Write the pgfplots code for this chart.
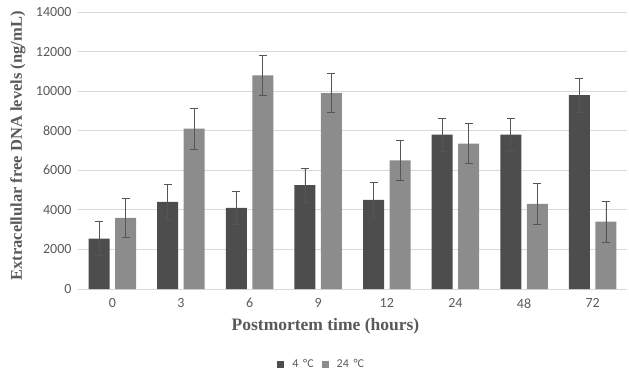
\documentclass[border=0pt]{standalone}
\usepackage{fontspec}
\setmainfont{Carlito}
\newfontfamily\labfont{Liberation Serif}
\usepackage{pgfplots}
\pgfplotsset{compat=1.18}
\definecolor{darkbar}{HTML}{4D4D4D}
\definecolor{lightbar}{HTML}{8C8C8C}
\definecolor{gridc}{HTML}{D9D9D9}
\definecolor{txt}{HTML}{595959}
\definecolor{errc}{HTML}{555555}
\begin{document}
\begin{tikzpicture}
\begin{axis}[
  scale only axis, width=549pt, height=277pt,
  ybar=5.5pt, bar width=21pt,
  xmin=-0.5, xmax=7.5, ymin=0, ymax=14000,
  xtick={0,...,7}, xticklabels={0,3,6,9,12,24,48,72},
  ytick={0,2000,...,14000},
  /pgf/number format/assume math mode=true,
  /pgf/number format/set thousands separator={},
  scaled y ticks=false,
  ymajorgrids, grid style={gridc, line width=0.8pt},
  axis line style={draw=none},
  axis x line*=bottom, axis y line*=left,
  x axis line style={draw=gridc, line width=0.8pt},
  major tick length=0pt,
  tick label style={font=\fontsize{14}{16}\selectfont, text=txt},
  xticklabel style={yshift=-6pt},
  yticklabel style={xshift=-3pt},
  xlabel={\labfont\bfseries Postmortem time (hours)},
  ylabel={\labfont\bfseries Extracellular free DNA levels (ng/mL)},
  xlabel style={font=\fontsize{17.5}{19}\selectfont, text=txt, at={(axis description cs:0.5,0)}, anchor=center, yshift=-37pt, xshift=-27pt},
  ylabel style={font=\fontsize{16.5}{19}\selectfont, text=txt, at={(axis description cs:-0.1093,0.516)}, anchor=center, rotate=0},
  legend style={draw=none, fill=none, at={(axis description cs:0.444,-0.271)}, anchor=center,
    font=\fontsize{12}{14}\selectfont, text=txt, column sep=6pt},
  legend columns=2,
  legend image code/.code={\fill[#1] (0pt,-3.5pt) rectangle (7pt,3.5pt);},
  error bars/error bar style={errc, line width=0.7pt},
  error bars/error mark options={rotate=90, mark size=4pt, errc, line width=0.7pt},
]
\addplot[fill=darkbar, draw=none, error bars/.cd, y dir=both, y explicit] table[x=x, y=y, y error=e] {
x y e
0 2550 850
1 4400 880
2 4100 850
3 5250 870
4 4500 880
5 7800 850
6 7800 850
7 9800 870
};
\addplot[fill=lightbar, draw=none, error bars/.cd, y dir=both, y explicit] table[x=x, y=y, y error=e] {
x y e
0 3600 1000
1 8100 1030
2 10800 1000
3 9900 980
4 6500 1000
5 7350 1000
6 4300 1030
7 3400 1030
};
\legend{4 \,°C, 24 \,°C}
\end{axis}
\useasboundingbox (-78pt,-86pt) rectangle (551pt,289pt);
\end{tikzpicture}
\end{document}
